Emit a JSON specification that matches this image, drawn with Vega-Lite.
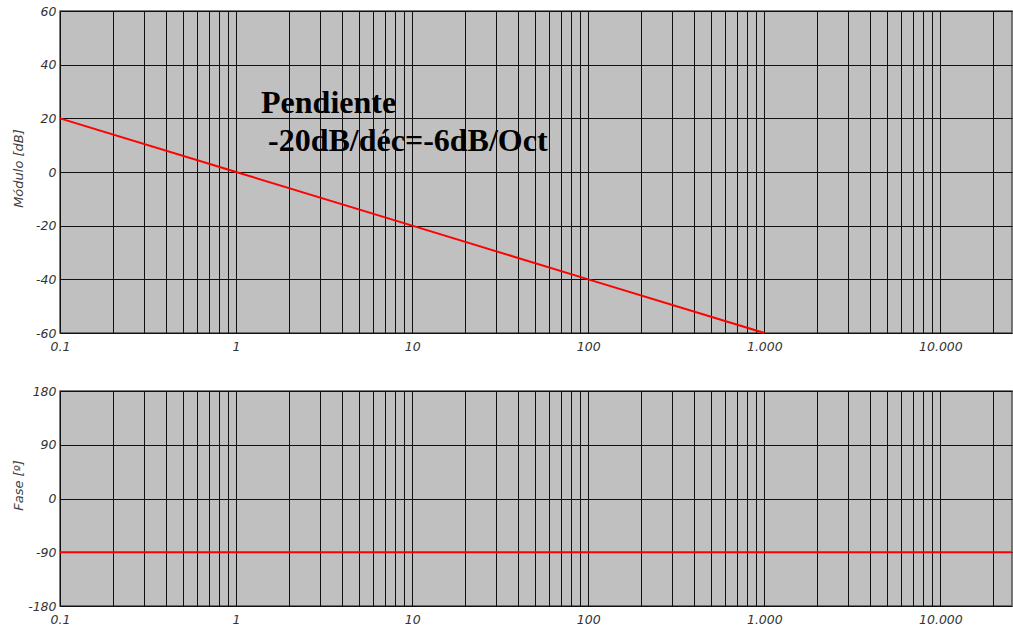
{
  "$schema": "https://vega.github.io/schema/vega-lite/v6.json",
  "background": "white",
  "padding": {"left": 11, "top": 4, "right": 0, "bottom": 0},
  "spacing": 30,
  "config": {
    "view": {"fill": "#c0c0c0", "stroke": "#505050", "strokeWidth": 1.5},
    "axis": {
      "labelFont": "DejaVu Sans", "labelFontStyle": "italic", "labelFontSize": 12.5, "labelColor": "#333333",
      "titleFont": "DejaVu Sans", "titleFontStyle": "italic", "titleFontWeight": "normal", "titleFontSize": 13, "titleColor": "#404040",
      "grid": true, "gridColor": "#111111", "gridOpacity": 1, "gridWidth": 1,
      "ticks": false, "domain": false, "labelOverlap": false, "labelFlush": false
    }
  },
  "datasets": {
    "mag": [
      {"f": 0.1, "db": 20}, {"f": 1, "db": 0}, {"f": 10, "db": -20}, {"f": 100, "db": -40}, {"f": 1000, "db": -60}
    ],
    "phase": [
      {"f": 0.1, "deg": -90}, {"f": 25500, "deg": -90}
    ],
    "note": [
      {"f": 1.386, "db": 22, "label": "Pendiente"},
      {"f": 1.518, "db": 7.8, "label": "-20dB/déc=-6dB/Oct"}
    ]
  },
  "vconcat": [
    {
      "width": 952,
      "height": 322,
      "layer": [
        {
          "data": {"name": "note"},
          "mark": {"type": "text", "font": "Liberation Serif", "fontWeight": "bold", "fontSize": 32, "align": "left", "baseline": "alphabetic", "color": "#000000"},
          "encoding": {
            "x": {"field": "f", "type": "quantitative", "scale": {"type": "log", "domain": [0.1, 25500], "nice": false},
              "axis": {
                "title": null, "labelPadding": 7,
                "values": [0.1,0.2,0.3,0.4,0.5,0.6,0.7,0.8,0.9,1,2,3,4,5,6,7,8,9,10,20,30,40,50,60,70,80,90,100,200,300,400,500,600,700,800,900,1000,2000,3000,4000,5000,6000,7000,8000,9000,10000,20000],
                "labelExpr": "datum.value == 0.1 ? '0.1' : datum.value == 1 ? '1' : datum.value == 10 ? '10' : datum.value == 100 ? '100' : datum.value == 1000 ? '1.000' : datum.value == 10000 ? '10.000' : ''"
              }},
            "y": {"field": "db", "type": "quantitative", "scale": {"domain": [-60, 60], "nice": false, "zero": false},
              "axis": {"title": "Módulo [dB]", "values": [-60,-40,-20,0,20,40,60], "labelExpr": "'' + datum.value", "labelPadding": 4, "titleX": -42, "titleY": 157, "titleAngle": -90, "titleBaseline": "middle", "titleAlign": "center"}},
            "text": {"field": "label", "type": "nominal"}
          }
        },
        {
          "data": {"name": "mag"},
          "mark": {"type": "line", "color": "#ff0000", "strokeWidth": 2},
          "encoding": {
            "x": {"field": "f", "type": "quantitative"},
            "y": {"field": "db", "type": "quantitative"}
          }
        }
      ]
    },
    {
      "width": 952,
      "height": 215,
      "data": {"name": "phase"},
      "mark": {"type": "line", "color": "#ff0000", "strokeWidth": 2},
      "encoding": {
        "x": {"field": "f", "type": "quantitative", "scale": {"type": "log", "domain": [0.1, 25500], "nice": false},
          "axis": {
            "title": null, "labelPadding": 7,
            "values": [0.1,0.2,0.3,0.4,0.5,0.6,0.7,0.8,0.9,1,2,3,4,5,6,7,8,9,10,20,30,40,50,60,70,80,90,100,200,300,400,500,600,700,800,900,1000,2000,3000,4000,5000,6000,7000,8000,9000,10000,20000],
            "labelExpr": "datum.value == 0.1 ? '0.1' : datum.value == 1 ? '1' : datum.value == 10 ? '10' : datum.value == 100 ? '100' : datum.value == 1000 ? '1.000' : datum.value == 10000 ? '10.000' : ''"
          }},
        "y": {"field": "deg", "type": "quantitative", "scale": {"domain": [-180, 180], "nice": false, "zero": false},
          "axis": {"title": "Fase [º]", "values": [-180,-90,0,90,180], "labelExpr": "'' + datum.value", "labelPadding": 4, "titleX": -42, "titleY": 94, "titleAngle": -90, "titleBaseline": "middle", "titleAlign": "center"}}
      }
    }
  ]
}
